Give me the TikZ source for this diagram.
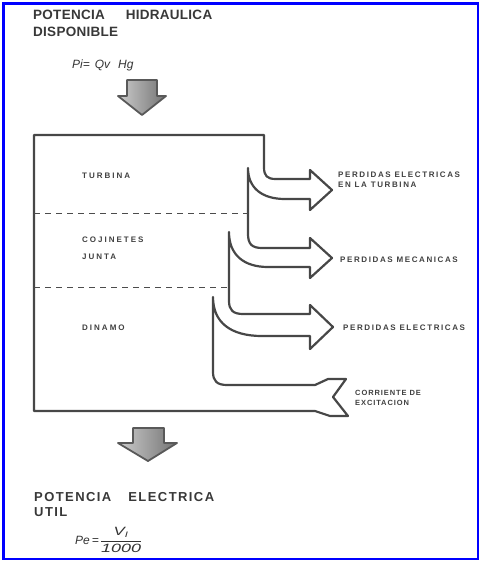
\documentclass[tikz,border=0pt]{standalone}
\usepackage{fontspec}
\setsansfont{Liberation Sans}
\newfontfamily\ttlfont[LetterSpace=2]{Liberation Sans}
\newfontfamily\ttlwidefont[LetterSpace=11]{Liberation Sans}
\newfontfamily\lblfont[LetterSpace=25]{Liberation Sans}
\newfontfamily\lossfont[LetterSpace=20]{Liberation Sans}
\newfontfamily\lblnarrowfont[LetterSpace=12]{Liberation Sans}
\usepackage{tikz}
\usepackage{xcolor}

\begin{document}
\begin{tikzpicture}[x=1pt, y=-1pt,
        outline/.style={draw=black!72, line width=2.2pt, line join=round},
        divider/.style={draw=black!70, dash pattern=on 6pt off 5pt, line width=0.8pt},
        flow/.style={draw=black!65, line width=1.8pt, line join=round, left color=black!20, right color=black!55},
        title/.style={anchor=west, align=left, inner sep=0, text=black!78, font=\ttlfont\bfseries\fontsize{13.5}{17}\selectfont},
        stage/.style={anchor=west, inner sep=0, text=black!75, font=\lblfont\bfseries\fontsize{8}{10}\selectfont},
        loss/.style={anchor=west, align=left, inner sep=0, text=black!75, font=\lossfont\bfseries\fontsize{8}{10}\selectfont},
        formula/.style={anchor=west, inner sep=0, text=black!80, font=\sffamily\itshape\fontsize{12}{14}\selectfont}]
                \useasboundingbox (0, 0) rectangle (483, 563);
                \draw[blue, line width=2.5pt] (3.5, 3.5) rectangle (478, 559);

                \node[title] (hidraulica) at (33, 23) {POTENCIA\hspace{21pt}HIDRAULICA\\DISPONIBLE};
                \node[formula] (pi) at (72, 65) {Pi=\hspace{5pt}Qv\hspace{8pt}Hg};
                \draw[flow] (127, 80) -- (157, 80) -- (157, 96) -- (166, 96) -- (142, 115) -- (118, 96) -- (127, 96) -- cycle;

                \draw[outline] (34, 135) -- (264, 135) -- (264, 167)
                .. controls (264, 176) and (267, 179) .. (276, 179) -- (310, 179) -- (310, 170) -- (332, 190) -- (310, 210) -- (310, 199) -- (285, 199)
                .. controls (262, 199) and (248, 188) .. (248, 168)
                -- (248, 234) .. controls (248, 244) and (252, 248) .. (262, 248) -- (310, 248) -- (310, 238) -- (332, 258) -- (310, 278) -- (310, 267) -- (268, 267)
                .. controls (244, 267) and (229, 255) .. (229, 232)
                -- (229, 301) .. controls (229, 310) and (233, 314) .. (243, 314) -- (310, 314) -- (310, 305) -- (333, 327) -- (310, 349) -- (310, 336) -- (262, 336)
                .. controls (230, 336) and (213, 322) .. (213, 297)
                -- (213, 372) .. controls (213, 381) and (217, 385) .. (227, 385) -- (315, 385) -- (328, 379) -- (346, 379) -- (333, 397) -- (348, 416) -- (330, 416) -- (315, 411) -- (34, 411) -- cycle;
                \draw[divider]
                (34, 213) -- (248, 213)
                (34, 287) -- (229, 287);

                \node[stage] (turbina) at (82, 176) {TURBINA};
                \node[stage] (cojinetes) at (82, 240) {COJINETES};
                \node[stage] (junta) at (82, 257) {JUNTA};
                \node[stage] (dinamo) at (82, 328) {DINAMO};

                \node[loss] (perdturbina) at (338, 180) {PERDIDAS ELECTRICAS\\EN LA TURBINA};
                \node[loss] (perdmecanicas) at (340, 260) {PERDIDAS MECANICAS};
                \node[loss] (perdelectricas) at (343, 328) {PERDIDAS ELECTRICAS};
                \node[loss, font=\lblnarrowfont\bfseries\fontsize{7.5}{10}\selectfont] (excitacion) at (355, 398) {CORRIENTE DE\\EXCITACION};

                \draw[flow] (133, 428) -- (164, 428) -- (164, 443) -- (177, 443) -- (148, 461) -- (118, 443) -- (133, 443) -- cycle;
                \node[title, font=\ttlwidefont\bfseries\fontsize{13}{15}\selectfont] (electrica) at (34, 505) {POTENCIA\hspace{17pt}ELECTRICA\\UTIL};
                \node[formula] (pe) at (75, 540) {Pe\hspace{2pt}=\hspace{1pt}$\displaystyle\frac{\mbox{\scalebox{1.4}[1]{\itshape V\textsubscript{I}}}}{\mbox{\scalebox{1.5}[1]{\itshape 1000}}}$};
            \end{tikzpicture}
\end{document}
